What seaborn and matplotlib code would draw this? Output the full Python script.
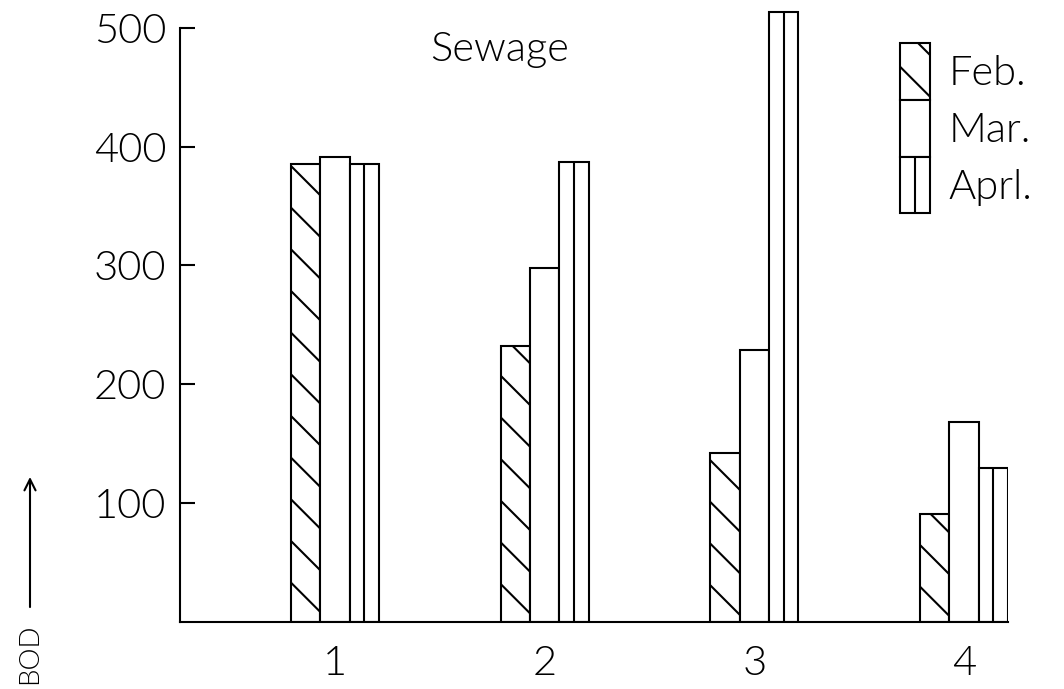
import matplotlib
matplotlib.use("Agg")
import matplotlib.pyplot as plt
import seaborn as sns
import pandas as pd
from matplotlib.legend_handler import HandlerPatch
from matplotlib.patches import Rectangle
from matplotlib.lines import Line2D

# BOD values per sampling site, one list per month
sites = ["1", "2", "3", "4"]
months = ["Feb.", "Mar.", "Aprl."]
feb = [385, 232, 142, 91]
mar = [391, 298, 229, 168]
apr = [385, 387, 513, 130]
yticks = [100, 200, 300, 400, 500]

DPI = 250
W, H = 1064, 689
LW = 0.6  # about 2 px at this dpi
FONT = ["Lato", "DejaVu Sans"]

sns.set_theme(style="white")
plt.rcParams["font.family"] = FONT
plt.rcParams["font.weight"] = 300
plt.rcParams["text.color"] = "black"
plt.rcParams["hatch.linewidth"] = LW
plt.rcParams["hatch.color"] = "black"

df = pd.DataFrame({
    "site": sites * len(months),
    "month": [m for m in months for _ in sites],
    "bod": feb + mar + apr,
})

fig = plt.figure(figsize=(W / DPI, H / DPI), dpi=DPI)
fig.patch.set_facecolor("white")
ax = fig.add_axes([180 / W, 67 / H, (1008 - 180) / W, (H - 67 - 4) / H])

sns.barplot(data=df, x="site", y="bod", hue="month", order=sites,
            hue_order=months, palette=["white"] * 3, saturation=1,
            edgecolor="black", linewidth=LW, width=0.42, errorbar=None,
            legend=False, ax=ax)

# Feb bars: diagonal hatching; Apr bars: split down the middle
for bar in ax.containers[0]:
    bar.set_hatch("\\\\")
for bar in ax.containers[2]:
    cx = bar.get_x() + bar.get_width() / 2
    ax.plot([cx, cx], [0, bar.get_height()], color="black", lw=LW,
            solid_capstyle="butt")

ax.set_xlim(-0.74, 3.21)
ax.set_ylim(0, 520)
ax.set_yticks(yticks)
ax.set_xlabel("")
ax.set_ylabel("")
sns.despine(ax=ax)
ax.spines["left"].set_bounds(0, 500)
for s in ("left", "bottom"):
    ax.spines[s].set_linewidth(LW)
    ax.spines[s].set_color("black")
ax.tick_params(axis="y", left=True, direction="in", length=4.3, width=LW,
               pad=4, labelsize=12, colors="black")
ax.tick_params(axis="x", bottom=False, length=0, pad=6.5, labelsize=12,
               colors="black")


class SplitHandler(HandlerPatch):
    def create_artists(self, legend, orig_handle, xdescent, ydescent,
                       width, height, fontsize, trans):
        rect = Rectangle((-xdescent, -ydescent), width, height,
                         facecolor="white", edgecolor="black", linewidth=LW,
                         transform=trans)
        mid = -xdescent + width / 2
        line = Line2D([mid, mid], [-ydescent, -ydescent + height],
                      color="black", linewidth=LW, transform=trans)
        return [rect, line]


handles = [
    Rectangle((0, 0), 1, 1, facecolor="white", edgecolor="black",
              linewidth=LW, hatch="\\\\"),
    Rectangle((0, 0), 1, 1, facecolor="white", edgecolor="black",
              linewidth=LW),
    Rectangle((0, 0), 1, 1, facecolor="white", edgecolor="black",
              linewidth=LW),
]
fig.legend(handles, months, loc="upper left",
           bbox_to_anchor=(900 / W, 1 - 43 / H), frameon=False,
           borderpad=0, borderaxespad=0, handlelength=0.72,
           handleheight=1.72, labelspacing=0, handletextpad=0.45,
           fontsize=12, handler_map={handles[2]: SplitHandler()})

fig.text(500 / W, 1 - 50 / H, "Sewage", ha="center", va="center",
         fontsize=12)

# axis label with upward arrow at the lower left
ax.annotate("", xy=(30, H - 470), xytext=(30, H - 614),
            xycoords="figure pixels", textcoords="figure pixels",
            arrowprops=dict(arrowstyle="->", lw=LW, color="black",
                            mutation_scale=8),
            annotation_clip=False)
fig.text(30 / W, 1 - 624 / H, "BOD", rotation=90, ha="center", va="top",
         fontsize=8)

fig.savefig("out.png", dpi=DPI, facecolor="white")
